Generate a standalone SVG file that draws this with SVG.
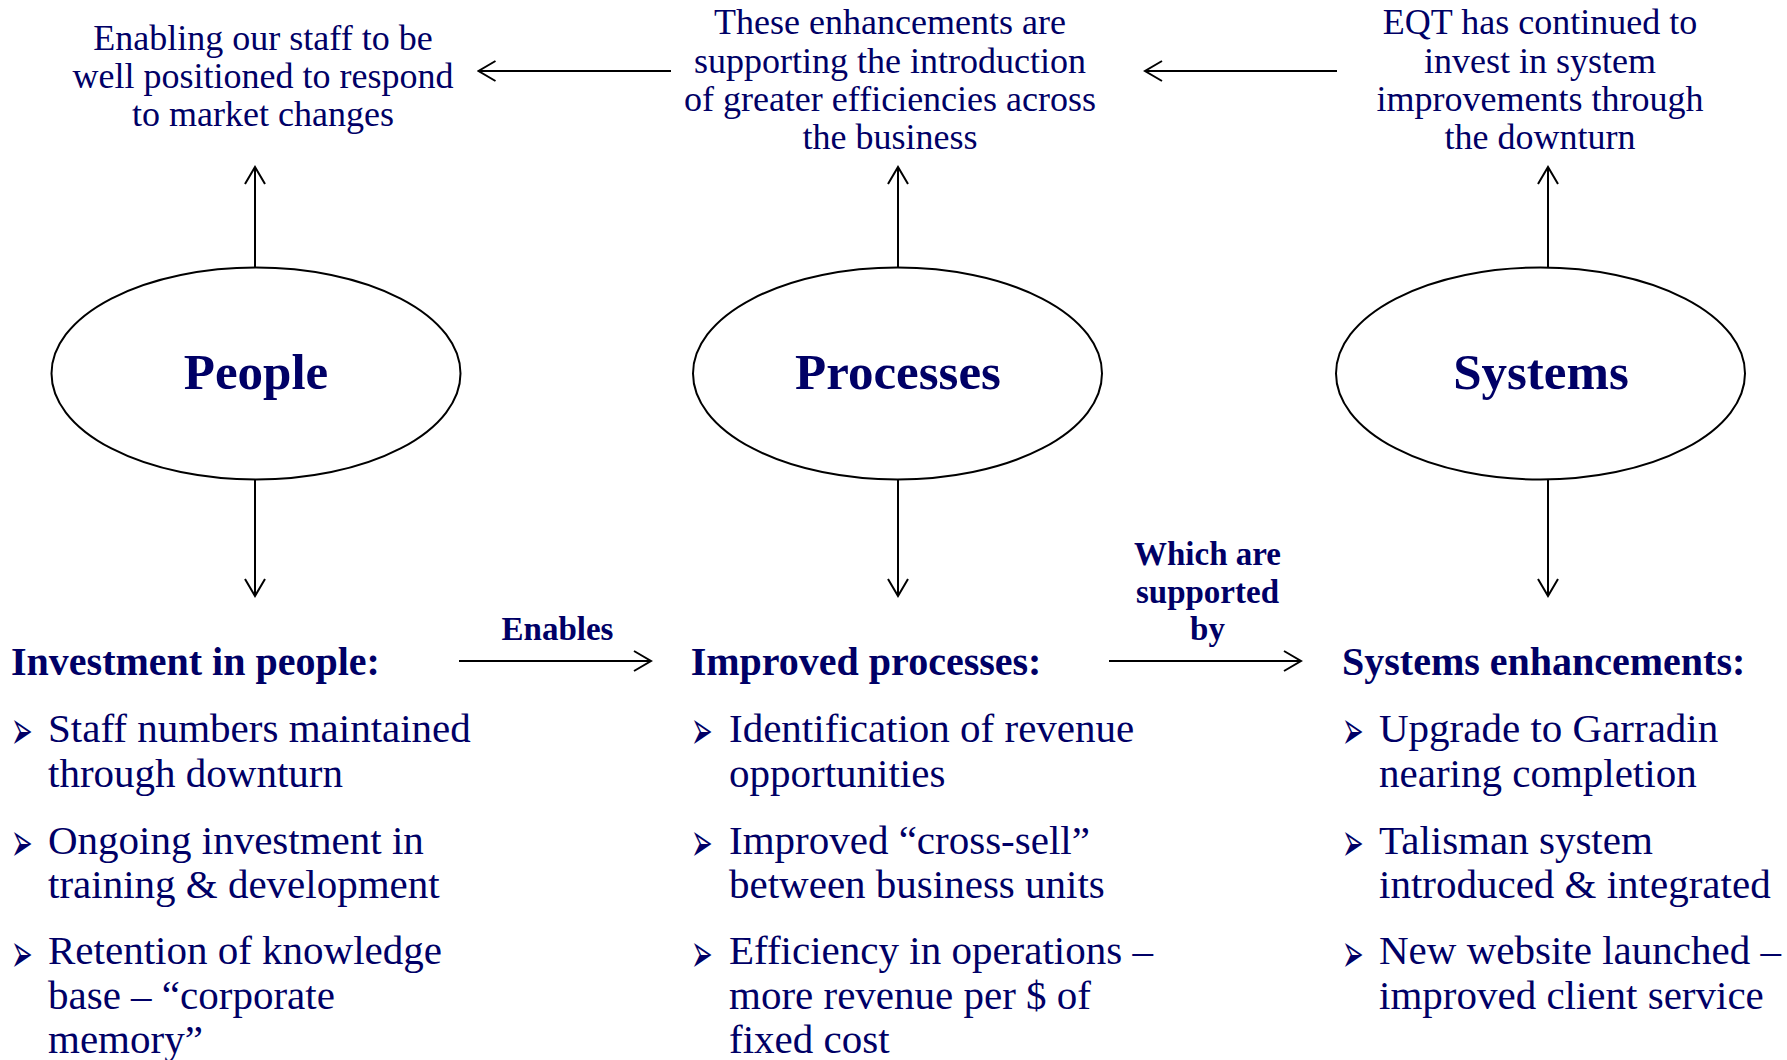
<svg xmlns="http://www.w3.org/2000/svg" width="1787" height="1060" viewBox="0 0 1787 1060">
  <style>
    text { font-family: "Liberation Serif", "Times New Roman", serif; fill: #000066; }
    .cap { font-size: 36px; text-anchor: middle; }
    .title { font-size: 51px; font-weight: bold; text-anchor: middle; }
    .head { font-size: 40px; font-weight: bold; }
    .lbl { font-size: 33px; font-weight: bold; text-anchor: middle; }
    .item { font-size: 41px; }
    .bul { font-family: "DejaVu Sans", sans-serif; font-size: 38px; }
    .node ellipse { fill: #ffffff; stroke: #000000; stroke-width: 2; }
    #connectors line { stroke: #000000; stroke-width: 2; marker-end: url(#head); }
  </style>
  <defs>
    <marker id="head" markerUnits="userSpaceOnUse" viewBox="-19 -12 21 24" markerWidth="21" markerHeight="24" refX="0" refY="0" orient="auto">
      <path d="M-17,-10 L0,0 L-17,10" fill="none" stroke="#000000" stroke-width="2"/>
    </marker>
  </defs>
  <rect width="1787" height="1060" fill="#ffffff"/>

  <!-- outcome captions across the top -->
  <g id="caption-people">
    <text class="cap" x="263" y="50">Enabling our staff to be</text>
    <text class="cap" x="263" y="88">well positioned to respond</text>
    <text class="cap" x="263" y="126">to market changes</text>
  </g>
  <g id="caption-processes">
    <text class="cap" x="890" y="34">These enhancements are</text>
    <text class="cap" x="890" y="72.5">supporting the introduction</text>
    <text class="cap" x="890" y="111">of greater efficiencies across</text>
    <text class="cap" x="890" y="148.5">the business</text>
  </g>
  <g id="caption-systems">
    <text class="cap" x="1540" y="34">EQT has continued to</text>
    <text class="cap" x="1540" y="72.5">invest in system</text>
    <text class="cap" x="1540" y="111">improvements through</text>
    <text class="cap" x="1540" y="148.5">the downturn</text>
  </g>

  <!-- the three pillars -->
  <g id="people" class="node">
    <ellipse cx="256" cy="373.5" rx="204.5" ry="106"/>
    <text class="title" x="256" y="389">People</text>
  </g>
  <g id="processes" class="node">
    <ellipse cx="897.5" cy="373.5" rx="204.5" ry="106"/>
    <text class="title" x="898" y="389">Processes</text>
  </g>
  <g id="systems" class="node">
    <ellipse cx="1540.5" cy="373.5" rx="204.5" ry="106"/>
    <text class="title" x="1541" y="389">Systems</text>
  </g>

  <!-- link labels -->
  <g id="label-enables">
    <text class="lbl" x="557.5" y="640">Enables</text>
  </g>
  <g id="label-supported">
    <text class="lbl" x="1207.5" y="565">Which are</text>
    <text class="lbl" x="1207.5" y="602.5">supported</text>
    <text class="lbl" x="1207.5" y="640">by</text>
  </g>

  <!-- detail columns; bullets are narrowed and stretched to the arrowhead shape -->
  <g id="investment-in-people">
    <text class="head" x="11" y="675">Investment in people:</text>
    <text class="bul" transform="translate(11,749) scale(0.68,1.43)">➢</text>
    <text class="item" x="48" y="741.5">Staff numbers maintained</text>
    <text class="item" x="48" y="786.5">through downturn</text>
    <text class="bul" transform="translate(11,861) scale(0.68,1.43)">➢</text>
    <text class="item" x="48" y="853.5">Ongoing investment in</text>
    <text class="item" x="48" y="898.3">training &amp; development</text>
    <text class="bul" transform="translate(11,971.5) scale(0.68,1.43)">➢</text>
    <text class="item" x="48" y="964">Retention of knowledge</text>
    <text class="item" x="48" y="1008.5">base – “corporate</text>
    <text class="item" x="48" y="1053">memory”</text>
  </g>
  <g id="improved-processes">
    <text class="head" x="690.7" y="675">Improved processes:</text>
    <text class="bul" transform="translate(691,749) scale(0.68,1.43)">➢</text>
    <text class="item" x="729" y="741.5">Identification of revenue</text>
    <text class="item" x="729" y="786.5">opportunities</text>
    <text class="bul" transform="translate(691,861) scale(0.68,1.43)">➢</text>
    <text class="item" x="729" y="853.5">Improved “cross-sell”</text>
    <text class="item" x="729" y="898.3">between business units</text>
    <text class="bul" transform="translate(691,971.5) scale(0.68,1.43)">➢</text>
    <text class="item" x="729" y="964">Efficiency in operations –</text>
    <text class="item" x="729" y="1008.5">more revenue per $ of</text>
    <text class="item" x="729" y="1053">fixed cost</text>
  </g>
  <g id="systems-enhancements">
    <text class="head" x="1342" y="675">Systems enhancements:</text>
    <text class="bul" transform="translate(1342,749) scale(0.68,1.43)">➢</text>
    <text class="item" x="1379" y="741.5">Upgrade to Garradin</text>
    <text class="item" x="1379" y="786.5">nearing completion</text>
    <text class="bul" transform="translate(1342,861) scale(0.68,1.43)">➢</text>
    <text class="item" x="1379" y="853.5">Talisman system</text>
    <text class="item" x="1379" y="898.3">introduced &amp; integrated</text>
    <text class="bul" transform="translate(1342,971.5) scale(0.68,1.43)">➢</text>
    <text class="item" x="1379" y="964">New website launched –</text>
    <text class="item" x="1379" y="1008.5">improved client service</text>
  </g>

  <!-- arrows -->
  <g id="connectors">
    <line x1="255" y1="267.5" x2="255" y2="167"/>
    <line x1="898" y1="267.5" x2="898" y2="167"/>
    <line x1="1548" y1="267.5" x2="1548" y2="167"/>
    <line x1="255" y1="479.5" x2="255" y2="596"/>
    <line x1="898" y1="479.5" x2="898" y2="596"/>
    <line x1="1548" y1="479.5" x2="1548" y2="596"/>
    <line x1="671" y1="71" x2="478.5" y2="71"/>
    <line x1="1337" y1="71" x2="1145" y2="71"/>
    <line x1="459" y1="661" x2="651" y2="661"/>
    <line x1="1109" y1="661" x2="1301" y2="661"/>
  </g>
</svg>
